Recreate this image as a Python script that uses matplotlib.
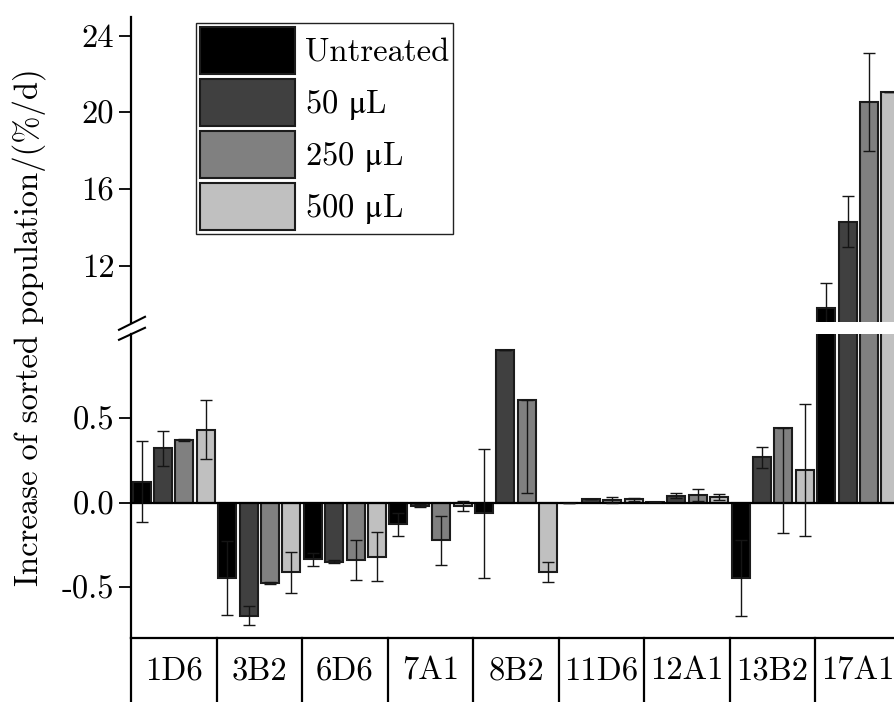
import numpy as np
import matplotlib
matplotlib.use('Agg')
import matplotlib.pyplot as plt
from matplotlib.lines import Line2D
from matplotlib.transforms import blended_transform_factory

plt.rcParams['font.family'] = ['cmr10', 'STIXGeneral', 'DejaVu Serif']
plt.rcParams['axes.unicode_minus'] = False
plt.rcParams['mathtext.fontset'] = 'custom'
plt.rcParams['mathtext.rm'] = 'STIXGeneral'
plt.rcParams['mathtext.it'] = 'STIXGeneral:italic'
plt.rcParams['mathtext.bf'] = 'STIXGeneral:bold'

# ---------------- data ----------------
categories = ['1D6', '3B2', '6D6', '7A1', '8B2', '11D6', '12A1', '13B2', '17A1']
series_names = ['Untreated', r'50 $\mathrm{\mu}$L', r'250 $\mathrm{\mu}$L',
                r'500 $\mathrm{\mu}$L']

untreated = [0.124, -0.444, -0.335, -0.128, -0.063, -0.003, 0.002, -0.443, 9.81]
ul50 = [0.321, -0.668, -0.349, -0.018, 0.905, 0.020, 0.042, 0.268, 14.29]
ul250 = [0.371, -0.475, -0.338, -0.223, 0.610, 0.014, 0.046, 0.440, 20.53]
ul500 = [0.432, -0.411, -0.318, -0.018, -0.408, 0.020, 0.036, 0.192, 21.07]

err_untreated = [0.24, 0.22, 0.037, 0.068, 0.38, 0.0, 0.0, 0.225, 1.28]
err_50 = [0.105, 0.055, 0.010, 0.010, 0.0, 0.0, 0.013, 0.062, 1.33]
err_250_low = [0.005, 0.005, 0.12, 0.146, 0.55, 0.017, 0.033, 0.62, 2.55]
err_250_high = [0.005, 0.005, 0.12, 0.146, 0.0, 0.017, 0.033, 0.0, 2.55]
err_500 = [0.175, 0.12, 0.145, 0.03, 0.06, 0.01, 0.018, 0.39, 0.0]

upper_ticks = [12, 16, 20, 24]
lower_ticks = [-0.5, 0.0, 0.5]
lower_ticklabels = ['-0.5', '0.0', '0.5']
ylabel = 'Increase of sorted population/(%/d)'

# ---------------- style ----------------
colors = ['#000000', '#404040', '#808080', '#c0c0c0']
edge = '#1c1c1c'
FS = 23.5
W, H = 894, 702

def fx(px):
    return px / W

def fy(py):
    return 1 - py / H

fig = plt.figure(figsize=(W / 100, H / 100), dpi=100)
ax_top = fig.add_axes([fx(131), fy(322), 770 / W, (322 - 17.3) / H])
ax_bot = fig.add_axes([fx(131), fy(638), 770 / W, (638 - 334) / H])

x = np.arange(len(categories))
offsets = [-0.375, -0.125, 0.125, 0.375]
width = 0.21
values = [untreated, ul50, ul250, ul500]
errors = [
    [err_untreated, err_untreated],
    [err_50, err_50],
    [err_250_low, err_250_high],
    [err_500, err_500],
]

for ax in (ax_top, ax_bot):
    for i in range(4):
        ax.bar(x + offsets[i], values[i], width, color=colors[i], edgecolor=edge,
               linewidth=1.5, label=series_names[i],
               yerr=np.array(errors[i]),
               error_kw=dict(ecolor='#151515', elinewidth=1.0, capsize=4.3,
                             capthick=1.0, zorder=3))
    ax.set_xlim(-0.5, len(categories) - 0.5)
    ax.spines['top'].set_visible(False)
    ax.spines['right'].set_visible(False)
    ax.spines['left'].set_linewidth(1.6)
    ax.tick_params(axis='y', direction='out', length=9, width=1.3,
                   labelsize=FS, pad=3)

ax_top.set_ylim(9.06, 24.96)
ax_top.set_yticks(upper_ticks)
ax_top.set_yticklabels([str(t) for t in upper_ticks])
ax_top.spines['bottom'].set_visible(False)
ax_top.set_xticks([])

ax_bot.set_ylim(-0.80, 0.998)
ax_bot.set_yticks(lower_ticks)
ax_bot.set_yticklabels(lower_ticklabels)
ax_bot.spines['bottom'].set_linewidth(1.6)
ax_bot.axhline(0, color='black', lw=1.6, zorder=2.5)
ax_bot.set_xticks(x)
ax_bot.set_xticklabels(categories)
ax_bot.tick_params(axis='x', length=0, labelsize=FS, pad=13)

# table dividers below the lower axes
trans = blended_transform_factory(ax_bot.transData, ax_bot.transAxes)
for b in np.arange(-0.5, len(categories), 1.0):
    ax_bot.plot([b, b], [0, -0.35], transform=trans, color='black', lw=1.6,
                clip_on=False)

# axis break marks
for (x0, y0, x1, y1) in [(119, 329.8, 145, 316.8), (119, 339.8, 145, 327.8)]:
    fig.add_artist(Line2D([fx(x0), fx(x1)], [fy(y0), fy(y1)],
                          transform=fig.transFigure, color='black', lw=1.5))

fig.text(fx(29), fy(327), ylabel, rotation=90, ha='center', va='center',
         fontsize=FS)

leg = ax_top.legend(loc='upper left', bbox_to_anchor=(0.0844, 0.981),
                    borderaxespad=0, fontsize=FS, handlelength=2.91,
                    handleheight=1.84, labelspacing=0.15, borderpad=0.13,
                    handletextpad=0.3, fancybox=False, framealpha=1,
                    edgecolor='#222222')
leg.get_frame().set_linewidth(1.0)

fig.savefig('out.png', dpi=100)
